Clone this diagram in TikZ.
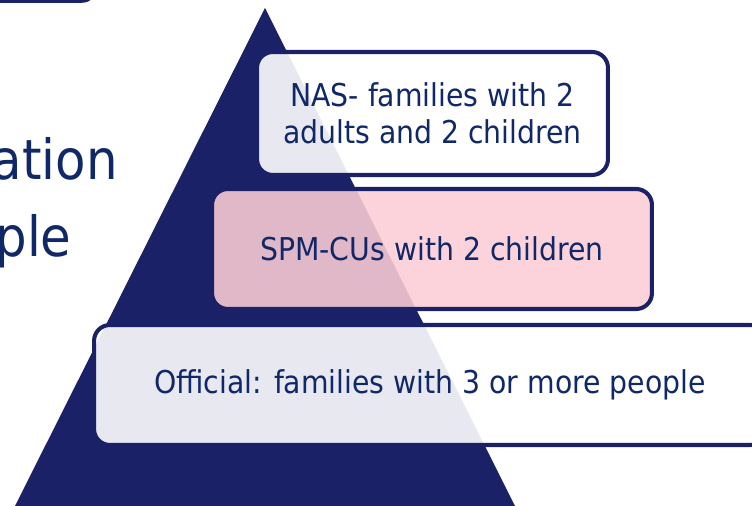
\documentclass[tikz,border=0pt]{standalone}
\usepackage{fontspec}
\setmainfont{DejaVu Sans Condensed}
\usepackage{tikz}
\usetikzlibrary{positioning}

\definecolor{navy}{RGB}{27,33,102}
\definecolor{textblue}{RGB}{16,40,104}
\definecolor{pinkbox}{RGB}{252,205,213}

\begin{document}
\begin{tikzpicture}[x=0.02cm,y=-0.02cm,
  level/.style={draw=navy, line width=2.3pt, rounded corners=9pt, minimum height=2.4cm, text=textblue, text opacity=1, font=\fontsize{17.9}{21}\selectfont, align=center, inner sep=0pt},
  bigword/.style={text=textblue, font=\fontsize{31.5}{44}\selectfont, inner sep=0pt}]

\useasboundingbox (0,0) rectangle (752,506);
\clip (0,0) rectangle (752,506);

% title box, cut off at the top
\draw [navy, line width=2pt, rounded corners=8pt] (-40,-60) rectangle (96,1);

\node [bigword, anchor=base east] (wordtop) at (118,180) {ation};
\node [bigword, anchor=base east] (wordbot) at (72,257) {ple};

\fill [navy] (265,8) -- (515,506) -- (15,506) -- cycle;

\node [level, fill=white, fill opacity=0.9, minimum width=7.02cm, minimum height=2.46cm] (nas) at (432.5,113.5) {NAS- families with 2\\adults and 2 children};

\node [level, fill=pinkbox, fill opacity=0.88, minimum width=8.8cm] (spm) at (432,249) {SPM-CUs with 2 children};

\node [level, fill=white, fill opacity=0.9, minimum width=13.44cm] (official) at (430,385) {Official: families with 3 or more people};

\end{tikzpicture}
\end{document}
